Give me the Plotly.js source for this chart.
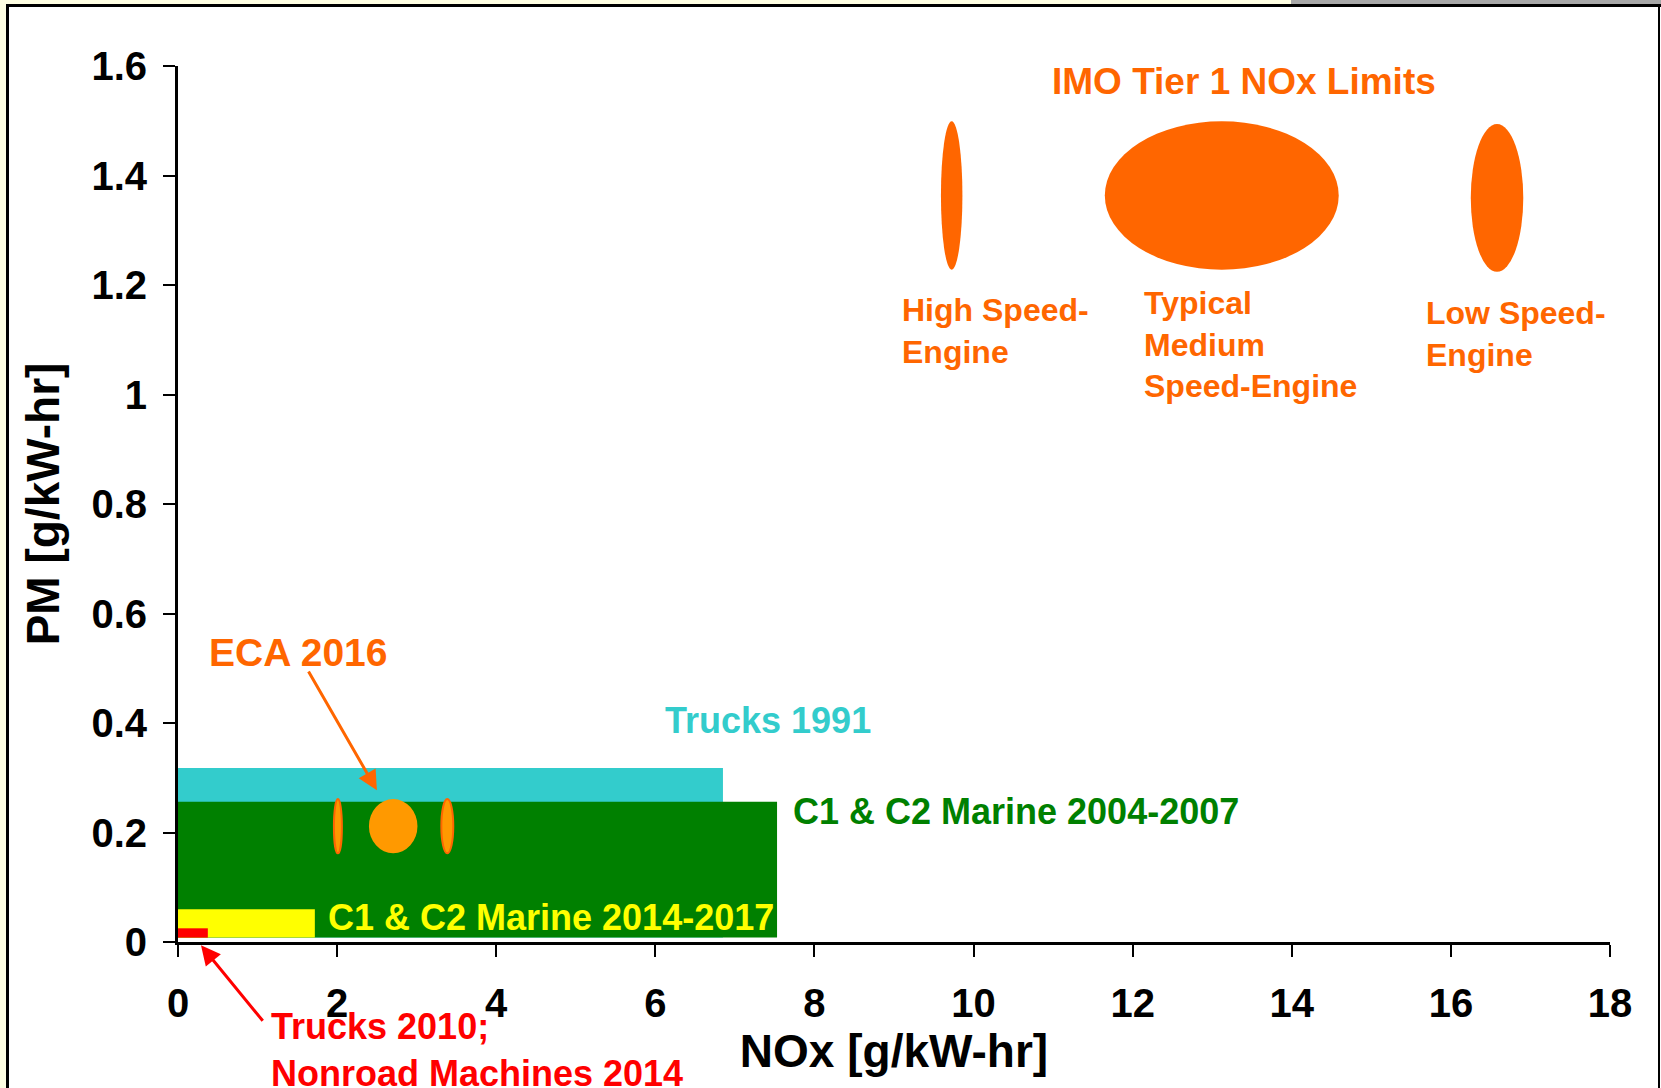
<!DOCTYPE html>
<html>
<head>
<meta charset="utf-8">
<script src="https://cdn.plot.ly/plotly-3.0.1.min.js"></script>
<style>
  body { margin: 0; background: #ffffff; }
  #wrap { position: relative; width: 1661px; height: 1088px; overflow: hidden; }
  #chart { position: absolute; left: 0; top: 0; }
  .deco { position: absolute; pointer-events: none; }
</style>
</head>
<body>
<div id="wrap">
  <div id="chart"></div>
  <!-- slide frame around the chart -->
  <div class="deco" style="left:0;top:0;width:1291px;height:4px;background:#ffffe3;"></div>
  <div class="deco" style="left:1291px;top:0;width:370px;height:4px;background:#a8a8a8;"></div>
  <div class="deco" style="left:0;top:0;width:6px;height:1088px;background:#ffffe3;"></div>
  <div class="deco" style="left:6px;top:4px;width:1655px;height:3px;background:#000;"></div>
  <div class="deco" style="left:6px;top:4px;width:3px;height:1084px;background:#000;"></div>
  <div class="deco" style="left:1658px;top:4px;width:2px;height:1084px;background:#000;"></div>
</div>
<script>
// Emission limit areas (upper corner of each box)
const limitNames = ['Trucks 1991', 'C1 & C2 Marine 2004-2007', 'C1 & C2 Marine 2014-2017', 'Trucks 2010; Nonroad Machines 2014'];
const limitNOx = [6.85, 7.53, 1.72, 0.375];
const limitPM = [0.318, 0.256, 0.060, 0.025];
const limitBase = 0.008;
const limitColors = ['#33cccc', '#008000', '#ffff00', '#ff0000'];

// IMO Tier 1 ellipses: NOx span and PM span
const imoNames = ['High Speed-Engine', 'Typical Medium Speed-Engine', 'Low Speed-Engine'];
const imoNOxMin = [9.59, 11.65, 16.25];
const imoNOxMax = [9.86, 14.59, 16.91];
const imoPMMin = [1.228, 1.228, 1.224];
const imoPMMax = [1.499, 1.499, 1.494];

// ECA 2016 ellipses
const ecaNOxMin = [1.96, 2.40, 3.31];
const ecaNOxMax = [2.06, 3.01, 3.46];
const ecaPMMin = [0.162, 0.162, 0.162];
const ecaPMMax = [0.261, 0.261, 0.261];

const yMax = 1.6;
const font = 'Arial, "Liberation Sans", sans-serif';

let shapes = [];

// Boxes, largest first so the smaller ones sit on top
for (let i = 0; i < limitNames.length; i++) {
    shapes.push({
        type: 'rect', xref: 'x', yref: 'y', layer: 'below',
        x0: 0, x1: limitNOx[i], y0: limitBase, y1: limitPM[i],
        fillcolor: limitColors[i], line: { width: 0 }
    });
}

for (let i = 0; i < imoNames.length; i++) {
    shapes.push({
        type: 'circle', xref: 'x', yref: 'y', layer: 'below',
        x0: imoNOxMin[i], x1: imoNOxMax[i], y0: imoPMMin[i], y1: imoPMMax[i],
        fillcolor: '#ff6600', line: { width: 0 }
    });
}

for (let i = 0; i < ecaNOxMin.length; i++) {
    const small = i !== 1;
    shapes.push({
        type: 'circle', xref: 'x', yref: 'y', layer: 'below',
        x0: ecaNOxMin[i], x1: ecaNOxMax[i], y0: ecaPMMin[i], y1: ecaPMMax[i],
        fillcolor: '#ff9900',
        line: { width: small ? 2 : 0, color: '#ff6600' }
    });
}

function label(text, x, y, color, size, xanchor, yanchor) {
    return {
        text: text, x: x, y: y, xref: 'x', yref: 'y',
        xanchor: xanchor || 'center', yanchor: yanchor || 'middle', align: 'left',
        showarrow: false,
        font: { family: font, size: size, color: color, weight: 'bold' }
    };
}

function arrow(x, y, ax, ay, color) {
    return {
        text: '', x: x, y: y, ax: ax, ay: ay,
        xref: 'x', yref: 'y', axref: 'x', ayref: 'y',
        showarrow: true, arrowhead: 2, arrowsize: 1.3, arrowwidth: 3,
        arrowcolor: color, standoff: 0, startstandoff: 0
    };
}

// below the x axis: y in paper units, otherwise plotly hides them
let redLabel = label('Trucks 2010;<br>Nonroad Machines 2014', 1.14, -0.198 / yMax, '#ff0000', 36, 'left');
redLabel.yref = 'paper';
let redArrow = arrow(0.289, -0.006 / yMax, 63, 77, '#ff0000');
redArrow.yref = 'paper';
redArrow.axref = 'pixel';
redArrow.ayref = 'pixel';

let annotations = [
    label('IMO Tier 1 NOx Limits', 13.4, 1.571, '#ff6600', 37),
    label('High Speed-<br>Engine', 9.08, 1.19, '#ff6600', 32, 'left', 'top'),
    label('Typical<br>Medium<br>Speed-Engine', 12.12, 1.203, '#ff6600', 32, 'left', 'top'),
    label('Low Speed-<br>Engine', 15.66, 1.185, '#ff6600', 32, 'left', 'top'),
    label('ECA 2016', 1.52, 0.528, '#ff6600', 39),
    label('Trucks 1991', 7.41, 0.405, '#33cccc', 36),
    label('C1 & C2 Marine 2004-2007', 7.70, 0.239, '#008000', 36, 'left'),
    label('C1 & C2 Marine 2014-2017', 1.86, 0.045, '#ffff00', 36, 'left'),
    redLabel,
    arrow(2.50, 0.277, 1.63, 0.497, '#ff6600'),
    redArrow
];

const axisFont = { family: font, size: 40, color: '#000', weight: 'bold' };
const titleFont = { family: font, size: 46, color: '#000', weight: 'bold' };

let layout = {
    width: 1661,
    height: 1088,
    paper_bgcolor: '#ffffff',
    plot_bgcolor: '#ffffff',
    showlegend: false,
    hovermode: false,
    margin: { l: 178, r: 51, t: 66, b: 146 },
    xaxis: {
        range: [0, 18], dtick: 2, tick0: 0,
        showgrid: false, zeroline: false,
        showline: true, linecolor: '#000', linewidth: 3,
        ticks: 'outside', ticklen: 12, tickwidth: 2, tickcolor: '#000',
        ticklabelstandoff: 12,
        tickfont: axisFont,
        title: { text: 'NOx [g/kW-hr]', font: titleFont, standoff: 11 }
    },
    yaxis: {
        range: [0, yMax], dtick: 0.2, tick0: 0,
        showgrid: false, zeroline: false,
        showline: true, linecolor: '#000', linewidth: 3,
        ticks: 'outside', ticklen: 12, tickwidth: 2, tickcolor: '#000',
        ticklabelstandoff: 8,
        tickfont: axisFont,
        title: { text: 'PM [g/kW-hr]', font: titleFont, standoff: 18 }
    },
    shapes: shapes,
    annotations: annotations
};

Plotly.newPlot('chart', [], layout, { staticPlot: true, displayModeBar: false });
</script>
</body>
</html>
